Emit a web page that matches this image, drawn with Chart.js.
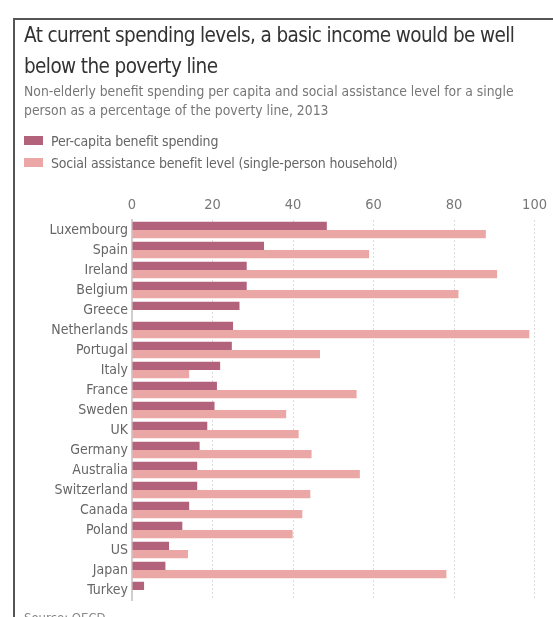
<!DOCTYPE html>
<html>
<head>
<meta charset="utf-8">
<script src="https://cdn.jsdelivr.net/npm/chart.js@4.4.1/dist/chart.umd.min.js"></script>
<style>
  body { margin: 0; background: #fff; overflow: hidden; }
  #wrap { position: relative; width: 553px; height: 617px; overflow: hidden; font-family: "Liberation Sans Narrow", "DejaVu Sans Condensed", sans-serif; }
  #frame { position: absolute; left: 13px; top: 18px; width: 600px; height: 700px; border-left: 2px solid #555; border-top: 2px solid #555; }
  #chart { position: absolute; left: 0; top: 0; }
  .txt { position: absolute; left: 24px; white-space: nowrap; }
  #title { top: 20px; font-size: 20.5px; letter-spacing: -0.6px; line-height: 31px; color: #333; }
  #subtitle { top: 82px; font-size: 13.8px; line-height: 18.5px; color: #777; }
  .leg { position: absolute; left: 24px; font-size: 14px; letter-spacing: -0.2px; line-height: 18px; color: #666; }
  .leg span { display: inline-block; width: 19px; height: 9px; margin-right: 8px; vertical-align: 1px; }
  #source { top: 610px; font-size: 13px; color: #888; }
</style>
</head>
<body>
<div id="wrap">
  <div id="frame"></div>
  <canvas id="chart" width="553" height="617"></canvas>
  <div class="txt" id="title">At current spending levels, a basic income would be well<br>below the poverty line</div>
  <div class="txt" id="subtitle">Non-elderly benefit spending per capita and social assistance level for a single<br>person as a percentage of the poverty line, 2013</div>
  <div class="leg" style="top:132px"><span style="background:#b3627c"></span>Per-capita benefit spending</div>
  <div class="leg" style="top:154px"><span style="background:#eba6a6"></span>Social assistance benefit level (single-person household)</div>
  <div class="txt" id="source">Source: OECD</div>
</div>
<script>
// Dati (% della soglia di povertà, 2013)
const countries = ["Luxembourg", "Spain", "Ireland", "Belgium", "Greece", "Netherlands", "Portugal", "Italy", "France", "Sweden",
    "UK", "Germany", "Australia", "Switzerland", "Canada", "Poland", "US", "Japan", "Turkey"];
const perCapitaSpending = [48.4, 32.8, 28.5, 28.5, 26.7, 25.1, 24.8, 21.9, 21.1, 20.5,
    18.7, 16.8, 16.2, 16.2, 14.2, 12.5, 9.2, 8.3, 3.0];
const assistanceLevel = [87.9, 58.9, 90.7, 81.1, null, 98.7, 46.7, 14.2, 55.8, 38.3,
    41.4, 44.6, 56.6, 44.3, 42.3, 39.9, 13.9, 78.1, null];
const xTicks = [0, 20, 40, 60, 80, 100];

const fontFamily = '"Liberation Sans Narrow", "DejaVu Sans Condensed", sans-serif';

const ctx = document.getElementById("chart").getContext("2d");
new Chart(ctx, {
    type: "bar",
    data: {
        labels: countries,
        datasets: [{
            label: "Per-capita benefit spending",
            data: perCapitaSpending,
            backgroundColor: "#b3627c",
            categoryPercentage: 0.83,
            barPercentage: 1.0
        }, {
            label: "Social assistance benefit level (single-person household)",
            data: assistanceLevel,
            backgroundColor: "#eba6a6",
            categoryPercentage: 0.83,
            barPercentage: 1.0
        }]
    },
    options: {
        indexAxis: "y",
        responsive: false,
        animation: false,
        layout: { padding: { top: 188, left: 0, right: 14, bottom: 17 } },
        plugins: { legend: { display: false }, tooltip: { enabled: false } },
        scales: {
            x: {
                position: "top",
                min: 0,
                max: 100,
                afterBuildTicks: (scale) => { scale.ticks = xTicks.map(v => ({ value: v })); },
                afterFit: (scale) => { scale.height = 32; },
                grid: { color: "#dcdcdc", lineWidth: 1, drawTicks: false },
                border: { display: false, dash: [2, 2] },
                ticks: { color: "#777", font: { family: fontFamily, size: 14.5 }, padding: 6 }
            },
            y: {
                afterFit: (scale) => { scale.width = 132; },
                grid: { display: false, drawTicks: false },
                border: { display: true, color: "#cfcfcf", width: 2 },
                ticks: { color: "#666", font: { family: fontFamily, size: 14 }, padding: 4, autoSkip: false }
            }
        }
    }
});
</script>
</body>
</html>
